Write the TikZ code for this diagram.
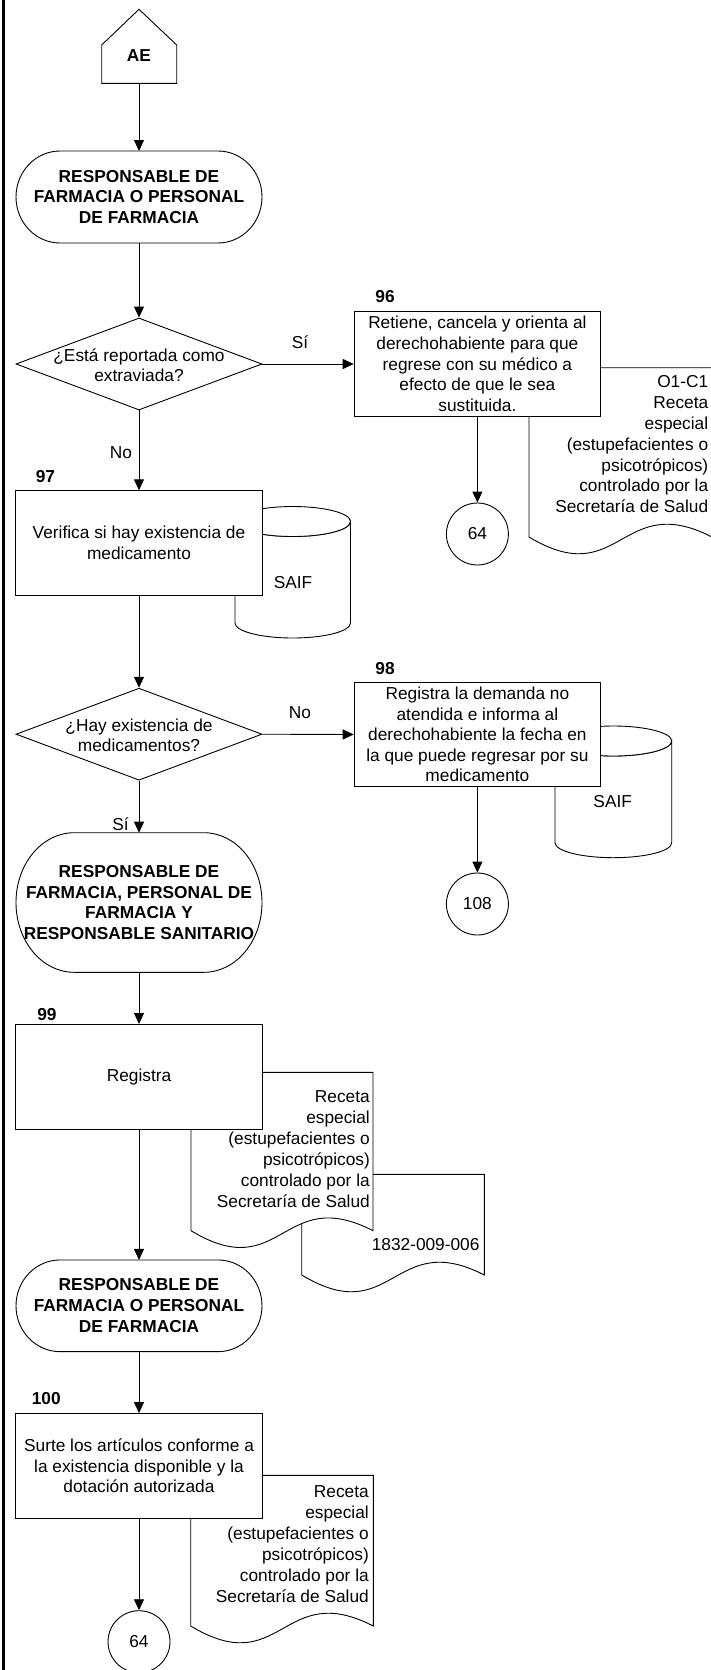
\documentclass[tikz,border=0pt]{standalone}
\usepackage{fontspec}
\setmainfont{Liberation Sans}
\usetikzlibrary{arrows.meta,shapes.geometric}

% rounded-end terminator outline around an (invisible) node: #1 name, #2 x radius, #3 y radius
\newcommand\termoutline[3]{%
  \draw ([xshift=#2pt]#1.north west) -- ([xshift=-#2pt]#1.north east)
    arc[start angle=90, end angle=-90, x radius=#2pt, y radius=#3pt]
    -- ([xshift=#2pt]#1.south west)
    arc[start angle=270, end angle=90, x radius=#2pt, y radius=#3pt] -- cycle;}
% document symbol: left, top, right, base line of the wavy bottom
\newcommand\docoutline[4]{%
  \draw[fill=white] (#1,#4) -- (#1,#2) -- (#3,#2) -- (#3,#4)
    .. controls ({(#1+#3)/2},{#4-47}) and ({(#1+#3)/2},{#4+55}) .. (#1,#4) -- cycle;}
% stored-data cylinder: left, right, centre line of the top ellipse, base line, half width
\newcommand\diskoutline[5]{%
  \draw[fill=white] (#1,#3) -- (#1,#4)
    arc[start angle=180, end angle=360, x radius=#5pt, y radius=15pt]
    -- (#2,#3) arc[start angle=0, end angle=-180, x radius=#5pt, y radius=15pt] -- cycle;
  \draw[fill=white] ({(#1+#2)/2},#3) ellipse[x radius=#5pt, y radius=15pt];}

\begin{document}
\begin{tikzpicture}[
  x=1pt, y=-1pt,
  line width=0.9pt,
  every node/.style={font=\fontsize{17.3pt}{20.6pt}\selectfont, inner sep=1pt},
  flow/.style={draw, -{Triangle[length=11pt,width=10pt]}},
  stepbox/.style={draw, fill=white, minimum width=246.5pt, minimum height=104.5pt, align=center},
  decision/.style={draw, diamond, minimum width=246pt, minimum height=92pt, inner sep=0pt},
  decisiontext/.style={align=center, font=\fontsize{17.3pt}{20pt}\selectfont},
  termtext/.style={minimum width=246pt, align=center, outer sep=0pt,
    font=\fontsize{17.3pt}{20.9pt}\selectfont\bfseries},
  connector/.style={draw, fill=white, circle, minimum size=62pt, inner sep=0pt},
  stepnum/.style={font=\fontsize{17.3pt}{20.6pt}\selectfont\bfseries},
  doctext/.style={align=right, anchor=east, inner sep=0pt, outer sep=0pt,
    font=\fontsize{17.3pt}{20.9pt}\selectfont},
]
\useasboundingbox (0,0) rectangle (711,1670);
\clip (0,0) rectangle (711,1670);

% lane border
\draw[line width=2.2pt] (3.5,0) -- (3.5,1670);

% documents and stored data (behind the process boxes)
\docoutline{529}{367.7}{712}{537}
\diskoutline{235}{350.5}{521.5}{623}{57.75}
\diskoutline{555}{671.7}{741}{842.7}{58.35}
\docoutline{301.7}{1174.3}{484.3}{1275}
\docoutline{191}{1072.3}{373}{1230.7}
\docoutline{190.7}{1475.3}{373.3}{1626}

\node[doctext] (r1) at (708.2,444.2) {O1-C1\\Receta\\especial\\(estupefacientes o\\psicotrópicos)\\controlado por la\\Secretaría de Salud};
\node[doctext] (r2) at (369.8,1148.9) {Receta\\especial\\(estupefacientes o\\psicotrópicos)\\controlado por la\\Secretaría de Salud};
\node[doctext] (r3) at (479.5,1245) {1832-009-006};
\node[doctext] (r4) at (368.8,1543.9) {Receta\\especial\\(estupefacientes o\\psicotrópicos)\\controlado por la\\Secretaría de Salud};
\node (saif1) at (293,583) {SAIF};
\node (saif2) at (612.7,801.7) {SAIF};

% off-page entry
\draw (101.7,83.3) -- (101.7,45) -- (139,9.3) -- (176.7,45) -- (176.7,83.3) -- cycle;
\node[stepnum] (ae) at (139,56) {AE};
\coordinate (aebot) at (139,83.3);

% main column
\node[termtext, minimum height=92pt] (t1) at (139,197) {RESPONSABLE DE\\FARMACIA O PERSONAL\\DE FARMACIA};
\termoutline{t1}{44}{46}
\node[decision] (d1) at (139,364) {};
\node[decisiontext] (d1t) at (139,365) {¿Está reportada como\\extraviada?};
\node[stepbox] (b97) at (139,543) {Verifica si hay existencia de\\medicamento};
\node[decision] (d2) at (139,734.2) {};
\node[decisiontext] (d2t) at (139,735) {¿Hay existencia de\\medicamentos?};
\node[termtext, minimum height=139.6pt] (t2) at (139,902.5) {RESPONSABLE DE\\FARMACIA, PERSONAL DE\\FARMACIA Y\\RESPONSABLE SANITARIO};
\termoutline{t2}{58}{69.8}
\node[stepbox] (b99) at (139,1076.7) {Registra};
\node[termtext, minimum height=91.7pt] (t3) at (139,1305.8) {RESPONSABLE DE\\FARMACIA O PERSONAL\\DE FARMACIA};
\termoutline{t3}{44}{45.85}
\node[stepbox] (b100) at (139,1465.8) {Surte los artículos conforme a\\la existencia disponible y la\\dotación autorizada};
\node[connector] (c64b) at (139,1641.7) {64};

% right column
\node[stepbox] (b96) at (477.4,364) {Retiene, cancela y orienta al\\derechohabiente para que\\regrese con su médico a\\efecto de que le sea\\sustituida.};
\node[connector] (c64a) at (477.4,534) {64};
\node[stepbox] (b98) at (477.4,734.5) {Registra la demanda no\\atendida e informa al\\derechohabiente la fecha en\\la que puede regresar por su\\medicamento};
\node[connector] (c108) at (477.4,904) {108};

% step numbers
\node[stepnum] (n96) at (385,297) {96};
\node[stepnum] (n97) at (45.5,476.7) {97};
\node[stepnum] (n98) at (385,668.3) {98};
\node[stepnum] (n99) at (47,1014.3) {99};
\node[stepnum] (n100) at (46.3,1399) {100};

% answers
\node (si1) at (300,342.7) {Sí};
\node (no1) at (121,453) {No};
\node (no2) at (300,712.7) {No};
\node (si2) at (120.5,824) {Sí};

% connectors
\draw[flow] (aebot) -- (t1.north);
\draw[flow] (t1.south) -- (d1.north);
\draw[flow] (d1.east) -- (b96.west);
\draw[flow] (d1.south) -- (b97.north);
\draw[flow] (b96.south) -- (c64a.north);
\draw[flow] (b97.south) -- (d2.north);
\draw[flow] (d2.east) -- (b98.west);
\draw[flow] (d2.south) -- (t2.north);
\draw[flow] (b98.south) -- (c108.north);
\draw[flow] (t2.south) -- (b99.north);
\draw[flow] (b99.south) -- (t3.north);
\draw[flow] (t3.south) -- (b100.north);
\draw[flow] (b100.south) -- (c64b.north);
\end{tikzpicture}
\end{document}
